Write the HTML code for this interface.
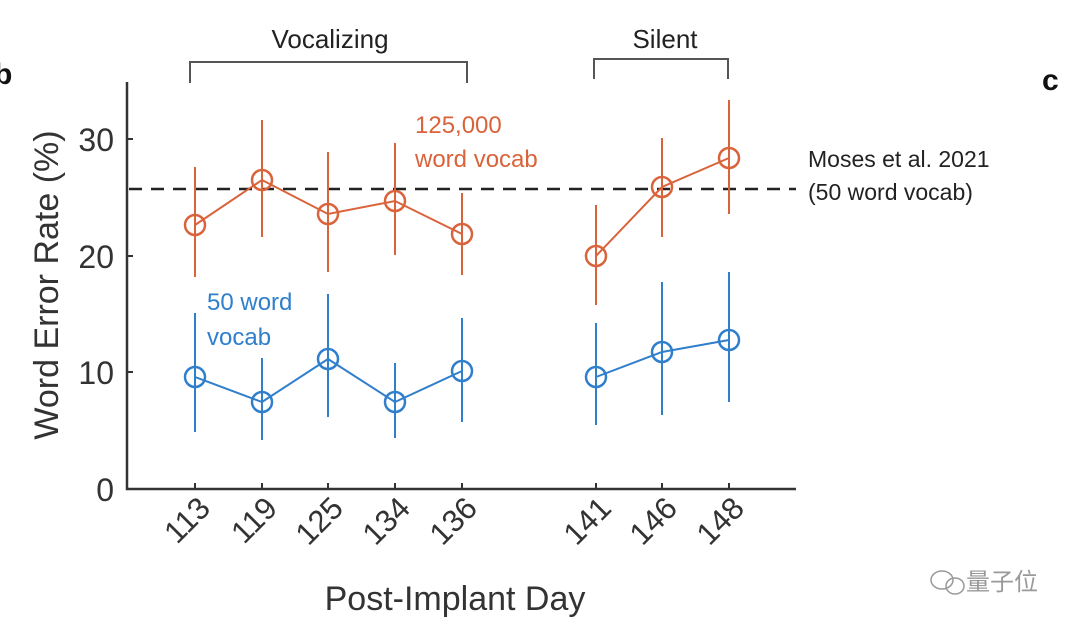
<!DOCTYPE html>
<html><head><meta charset="utf-8"><style>body{margin:0;background:#fff}svg{display:block}</style></head>
<body>
<svg width="1080" height="629" viewBox="0 0 1080 629" xmlns="http://www.w3.org/2000/svg" font-family="Liberation Sans, DejaVu Sans, sans-serif">
<rect width="1080" height="629" fill="#fff"/>
<text x="-6" y="84" font-size="30" font-weight="bold" fill="#111">b</text>
<text x="1042" y="90" font-size="30" font-weight="bold" fill="#111">c</text>
<text x="330" y="48" font-size="26" text-anchor="middle" fill="#222">Vocalizing</text>
<path d="M190 83 V62 H467 V83" fill="none" stroke="#555" stroke-width="2"/>
<text x="665" y="48" font-size="26" text-anchor="middle" fill="#222">Silent</text>
<path d="M594 79 V59 H728 V79" fill="none" stroke="#555" stroke-width="2"/>
<!-- axes -->
<path d="M127 82 V489 H796" fill="none" stroke="#333" stroke-width="2.5"/>
<g stroke="#333" stroke-width="2">
<line x1="127" y1="139" x2="133" y2="139"/><line x1="127" y1="256" x2="133" y2="256"/><line x1="127" y1="372" x2="133" y2="372"/>
<line x1="195" y1="483" x2="195" y2="489"/><line x1="262" y1="483" x2="262" y2="489"/><line x1="328" y1="483" x2="328" y2="489"/><line x1="395" y1="483" x2="395" y2="489"/><line x1="462" y1="483" x2="462" y2="489"/><line x1="596" y1="483" x2="596" y2="489"/><line x1="662" y1="483" x2="662" y2="489"/><line x1="729" y1="483" x2="729" y2="489"/>
</g>
<g font-size="32" fill="#333" text-anchor="end">
<text x="114" y="151">30</text><text x="114" y="268">20</text><text x="114" y="384">10</text><text x="114" y="501">0</text>
</g>
<g font-size="31" fill="#333" text-anchor="end">
<text transform="translate(212,510) rotate(-45)">113</text>
<text transform="translate(279,510) rotate(-45)">119</text>
<text transform="translate(345,510) rotate(-45)">125</text>
<text transform="translate(412,510) rotate(-45)">134</text>
<text transform="translate(479,510) rotate(-45)">136</text>
<text transform="translate(613,510) rotate(-45)">141</text>
<text transform="translate(679,510) rotate(-45)">146</text>
<text transform="translate(746,510) rotate(-45)">148</text>
</g>
<text x="455" y="610" font-size="34" text-anchor="middle" fill="#333">Post-Implant Day</text>
<text transform="translate(58,285) rotate(-90)" font-size="34" text-anchor="middle" fill="#333">Word Error Rate (%)</text>
<!-- dashed -->
<line x1="129" y1="189" x2="796" y2="189" stroke="#222" stroke-width="2.5" stroke-dasharray="13,9"/>
<text x="808" y="167" font-size="23" fill="#222">Moses et al. 2021</text>
<text x="808" y="200" font-size="23" fill="#222">(50 word vocab)</text>
<!-- orange -->
<g stroke="#d9633a" stroke-width="2" fill="none">
<line x1="195" y1="167" x2="195" y2="277"/><line x1="262" y1="120" x2="262" y2="237"/><line x1="328" y1="152" x2="328" y2="272"/><line x1="395" y1="143" x2="395" y2="255"/><line x1="462" y1="193" x2="462" y2="275"/>
<line x1="596" y1="205" x2="596" y2="305"/><line x1="662" y1="138" x2="662" y2="237"/><line x1="729" y1="100" x2="729" y2="214"/>
<polyline points="195,225 262,180 328,214 395,201 462,234"/>
<polyline points="596,256 662,187 729,158"/>
<g stroke-width="2.5"><circle cx="195" cy="225" r="10"/><circle cx="262" cy="180" r="10"/><circle cx="328" cy="214" r="10"/><circle cx="395" cy="201" r="10"/><circle cx="462" cy="234" r="10"/><circle cx="596" cy="256" r="10"/><circle cx="662" cy="187" r="10"/><circle cx="729" cy="158" r="10"/></g>
</g>
<text x="415" y="133" font-size="24" fill="#d9633a">125,000</text>
<text x="415" y="167" font-size="24" fill="#d9633a">word vocab</text>
<!-- blue -->
<g stroke="#2f7fcc" stroke-width="2" fill="none">
<line x1="195" y1="313" x2="195" y2="432"/><line x1="262" y1="358" x2="262" y2="440"/><line x1="328" y1="294" x2="328" y2="417"/><line x1="395" y1="363" x2="395" y2="438"/><line x1="462" y1="318" x2="462" y2="422"/>
<line x1="596" y1="323" x2="596" y2="425"/><line x1="662" y1="282" x2="662" y2="415"/><line x1="729" y1="272" x2="729" y2="402"/>
<polyline points="195,377 262,402 328,359 395,402 462,371"/>
<polyline points="596,377 662,352 729,340"/>
<g stroke-width="2.5"><circle cx="195" cy="377" r="10"/><circle cx="262" cy="402" r="10"/><circle cx="328" cy="359" r="10"/><circle cx="395" cy="402" r="10"/><circle cx="462" cy="371" r="10"/><circle cx="596" cy="377" r="10"/><circle cx="662" cy="352" r="10"/><circle cx="729" cy="340" r="10"/></g>
</g>
<text x="207" y="310" font-size="24" fill="#2f7fcc">50 word</text>
<text x="207" y="345" font-size="24" fill="#2f7fcc">vocab</text>
<!-- watermark -->
<g stroke="#999" stroke-width="1.5" fill="none"><ellipse cx="942" cy="580" rx="11" ry="9"/><ellipse cx="955" cy="586" rx="9" ry="8"/></g>
<text x="966" y="590" font-size="24" fill="#999" font-family="Liberation Sans, Noto Sans CJK SC, sans-serif">量子位</text>
</svg>
</body></html>
